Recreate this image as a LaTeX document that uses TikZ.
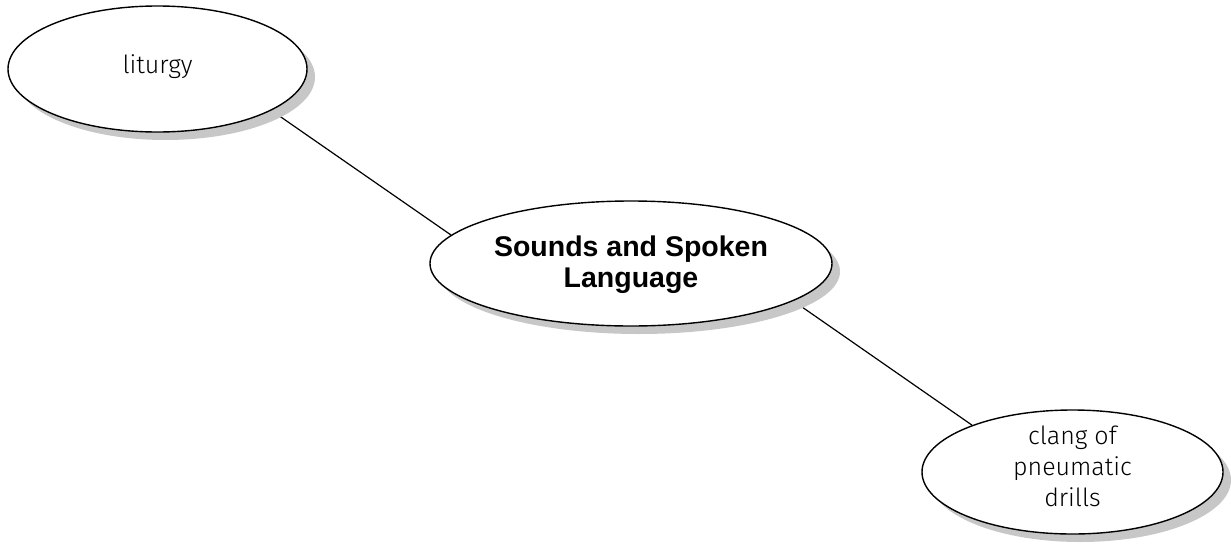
\documentclass[tikz,border=0pt]{standalone}
\usepackage{fontspec}
\setmainfont{Liberation Sans}
\newfontfamily\lightfont{Fira Sans}[UprightFont=* Light]
\usetikzlibrary{shapes.geometric,shadows}
\pgfdeclarelayer{background}
\pgfsetlayers{background,main}
\tikzset{
  bubble/.style={ellipse, draw=black, line width=1.4pt, fill=white, inner sep=0pt,
    drop shadow={shadow xshift=8pt, shadow yshift=-8pt, fill=black!22, opacity=1}},
  lighttext/.style={font=\lightfont\fontsize{25}{31}\selectfont, align=center},
  boldtext/.style={font=\bfseries\fontsize{28.5}{31}\selectfont, align=center},
  link/.style={line width=1.2pt, draw=black}
}
\begin{document}
\begin{tikzpicture}[x=1pt,y=-1pt]
\useasboundingbox (0,0) rectangle (1231,544);
\node[bubble, minimum width=299pt, minimum height=126pt] (lit) at (157.5,69) {};
\node[lighttext] (littext) at (157.5,67) {liturgy};
\node[bubble, minimum width=402pt, minimum height=125pt] (main) at (631,263.5) {};
\node[boldtext] (maintext) at (631,265) {Sounds and Spoken\\Language};
\node[bubble, minimum width=301pt, minimum height=124pt] (clang) at (1072.5,472) {};
\node[lighttext] (clangtext) at (1072.5,466) {clang of\\pneumatic\\drills};
\begin{pgfonlayer}{background}
\draw[link] (lit.-20.9) -- (main.171.7);
\draw[link] (main.-13.6) -- (clang.155.8);
\end{pgfonlayer}
\end{tikzpicture}
\end{document}
